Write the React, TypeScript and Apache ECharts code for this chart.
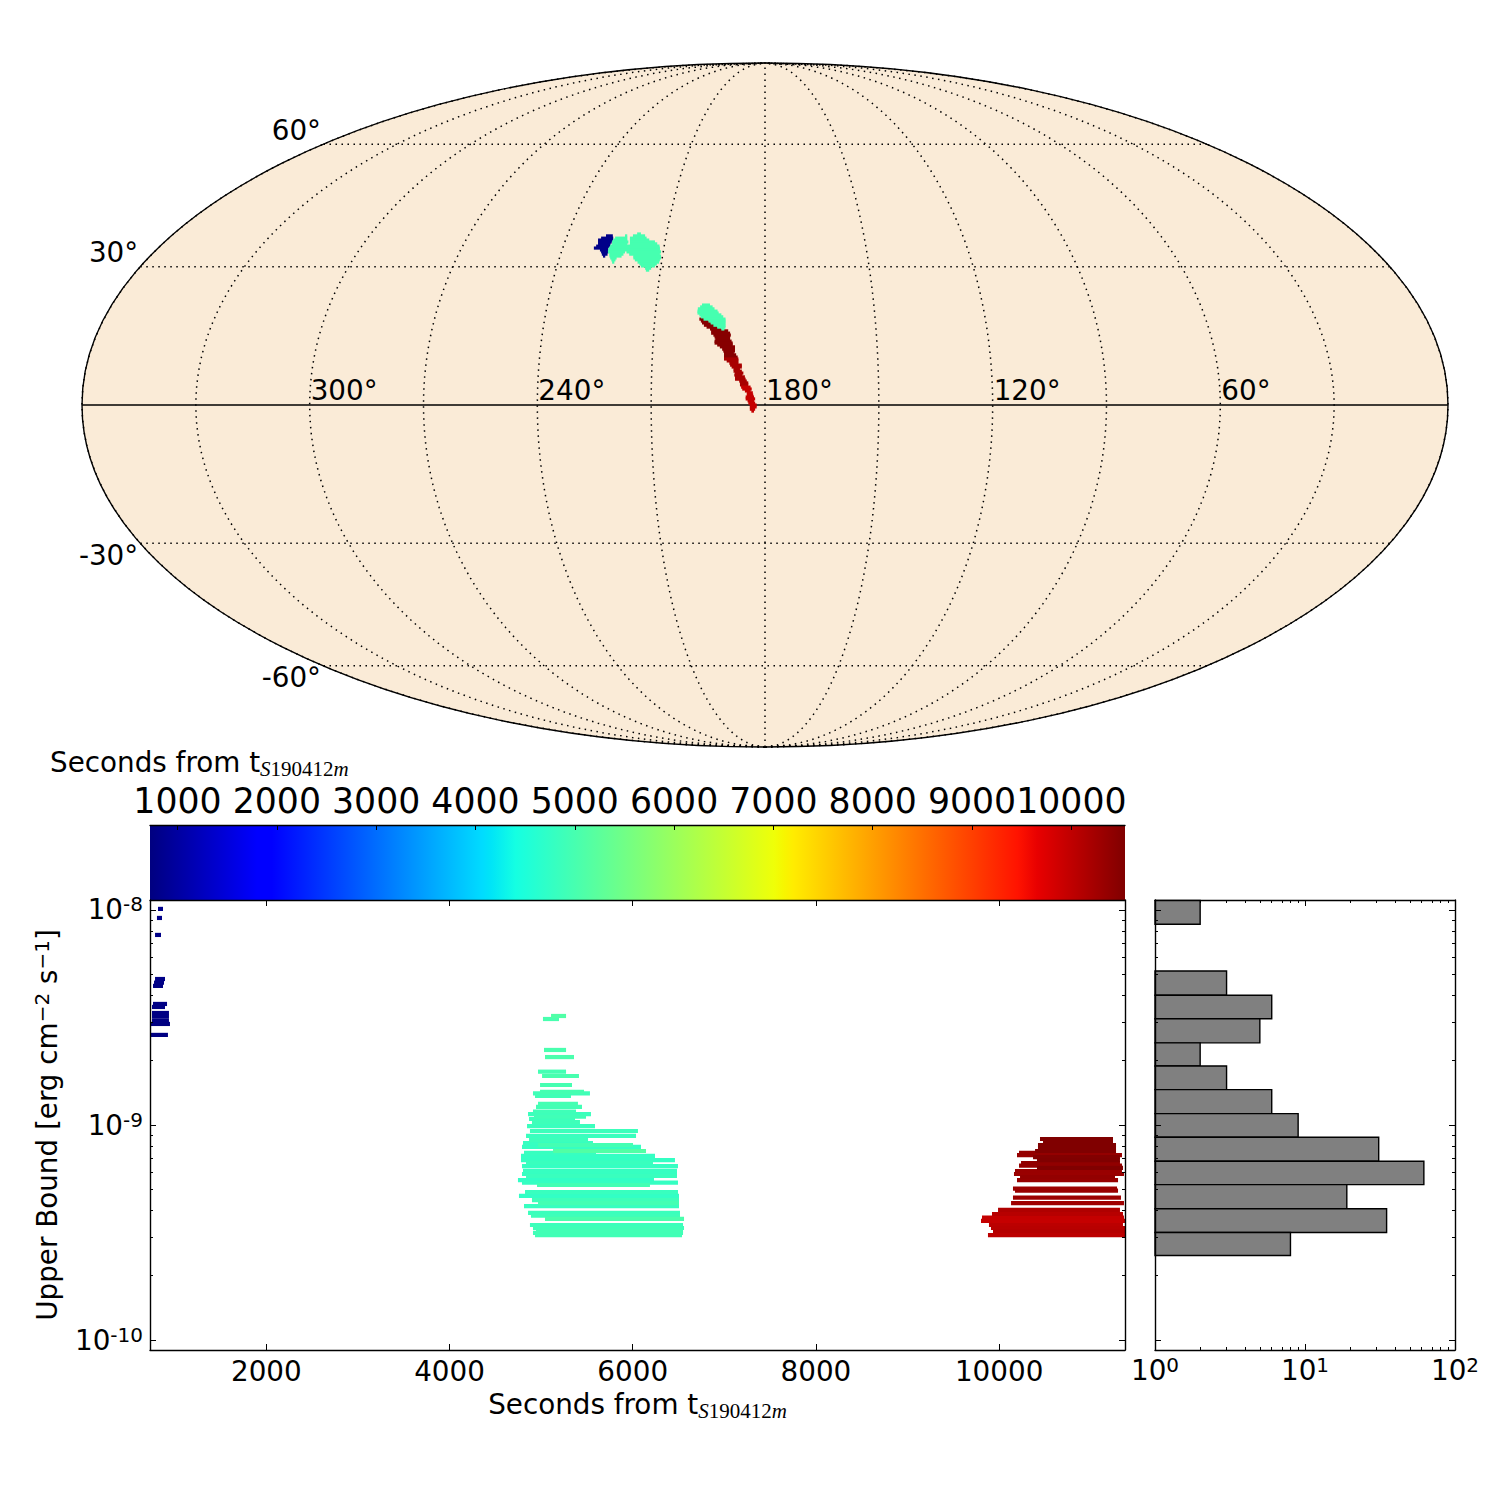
import React, { useEffect, useRef } from "react";
import * as echarts from "echarts";

const FONT = "DejaVu Sans";
const SERIF = "Liberation Serif";
const NAVY_T = 800;
const GREEN_T = 5000;

// Colour bar range, seconds
const cbMin = 723;
const cbMax = 10540;
const cbTicks = [1000, 2000, 3000, 4000, 5000, 6000, 7000, 8000, 9000, 10000];

// Main panel ranges
const tMin = 730;
const tMax = 11374;
const tTicks = [2000, 4000, 6000, 8000, 10000];
const fluxMin = 8.985e-11;
const fluxMax = 1.113e-8;
const fluxMajor = [1e-10, 1e-9, 1e-8];
const fluxMinor = [2e-10, 3e-10, 4e-10, 5e-10, 6e-10, 7e-10, 8e-10, 9e-10, 2e-9, 3e-9, 4e-9, 5e-9, 6e-9, 7e-9, 8e-9, 9e-9];
const countMajor = [1, 10, 100];
const countMinor = [2, 3, 4, 5, 6, 7, 8, 9, 20, 30, 40, 50, 60, 70, 80, 90];

// Upper limits: [log10 flux, first second, last second]
const earlyLimits = [
  [-7.995, 817, 872], [-8.037, 806, 861], [-8.116, 785, 850], [-8.321, 785, 894], [-8.338, 774, 883],
  [-8.353, 763, 872], [-8.437, 763, 916], [-8.451, 752, 894], [-8.479, 752, 937], [-8.496, 752, 937],
  [-8.515, 752, 937], [-8.53, 741, 948], [-8.581, 741, 926],
];
const middleLimits = [
  [-8.493, 5108, 5272], [-8.507, 5020, 5195], [-8.651, 5031, 5272], [-8.684, 5042, 5359], [-8.752, 4966, 5272],
  [-8.772, 5010, 5413], [-8.814, 4988, 5337], [-8.846, 4988, 5468], [-8.853, 4911, 5533], [-8.865, 4933, 5326],
  [-8.902, 4966, 5402], [-8.916, 4944, 5446], [-8.938, 4911, 5381], [-8.949, 4857, 5544], [-8.961, 4922, 5490],
  [-8.972, 4868, 5370], [-8.986, 4900, 5424], [-9.005, 4846, 5588], [-9.028, 4878, 6057], [-9.051, 4835, 6036],
  [-9.07, 4868, 5512], [-9.084, 4802, 5566], [-9.093, 4966, 6003], [-9.102, 4791, 6090], [-9.121, 5130, 6145],
  [-9.13, 4813, 5599], [-9.144, 4780, 6243], [-9.163, 4780, 6461], [-9.175, 4835, 6221], [-9.191, 4791, 6494],
  [-9.213, 4802, 6483], [-9.228, 4791, 6483], [-9.237, 4835, 6483], [-9.256, 4747, 6232], [-9.268, 4791, 6494],
  [-9.279, 4955, 6188], [-9.312, 4824, 6494], [-9.33, 4758, 6505], [-9.349, 4900, 6505], [-9.363, 4966, 6505],
  [-9.377, 4813, 6505], [-9.409, 4857, 6516], [-9.422, 4889, 6516], [-9.437, 5042, 6560], [-9.465, 4878, 6549],
  [-9.479, 4911, 6560], [-9.493, 4944, 6549], [-9.502, 4911, 6549], [-9.512, 4933, 6538],
];
const lateLimits = [
  [-9.065, 10446, 11243], [-9.079, 10479, 11243], [-9.093, 10424, 11276], [-9.106, 10424, 11276], [-9.121, 10392, 11276],
  [-9.13, 10217, 11276], [-9.14, 10195, 11341], [-9.149, 10370, 11319], [-9.163, 10413, 11319], [-9.177, 10239, 11319],
  [-9.189, 10217, 11341], [-9.199, 10413, 11352], [-9.214, 10173, 11341], [-9.228, 10162, 11363], [-9.242, 10228, 11265],
  [-9.256, 10195, 11298], [-9.296, 10151, 11287], [-9.305, 10173, 11298], [-9.338, 10151, 11330], [-9.363, 10130, 11363],
  [-9.395, 9988, 11319], [-9.414, 9922, 11352], [-9.431, 9813, 11363], [-9.446, 9802, 11385], [-9.465, 9889, 11352],
  [-9.479, 9911, 11385], [-9.493, 9933, 11385], [-9.512, 9878, 11385],
];

// Histogram: bin edges (flux) and counts per bin, top to bottom
const binUpper = [1.109e-8, 5.2e-9, 4.01e-9, 3.12e-9, 2.41e-9, 1.88e-9, 1.46e-9, 1.13e-9, 8.77e-10, 6.78e-10, 5.28e-10, 4.08e-10, 3.16e-10];
const binLower = [8.58e-9, 4.01e-9, 3.12e-9, 2.41e-9, 1.88e-9, 1.46e-9, 1.13e-9, 8.77e-10, 6.78e-10, 5.28e-10, 4.08e-10, 3.16e-10, 2.47e-10];
const binCounts = [2, 3, 6, 5, 2, 3, 6, 9, 31, 62, 19, 35, 8];

// Sky map rows: [map y, map x start, map x end], map units are degrees along the axes
const skyNavy = [
  [44.5, -41.9, -40.1], [43.9, -43.2, -40.0], [43.4, -44.0, -40.1], [42.9, -44.0, -40.4], [42.4, -44.0, -40.7], [41.8, -44.5, -40.8],
  [41.3, -45.1, -41.3], [40.8, -43.5, -41.3], [40.3, -43.2, -41.3], [39.7, -43.0, -41.5], [39.2, -42.7, -42.1],
];
const skyGreen = [
  [45.0, -33.7, -32.7], [44.5, -36.9, -36.3], [44.5, -34.8, -31.6], [43.9, -39.5, -36.3], [43.9, -35.6, -31.2],
  [43.4, -40.0, -36.3], [43.4, -35.6, -30.5], [42.9, -40.3, -36.0], [42.9, -35.6, -29.0], [42.4, -40.3, -36.3],
  [42.4, -35.6, -28.4], [41.8, -40.8, -27.8], [41.3, -41.1, -27.7], [40.8, -41.3, -27.7], [40.3, -41.4, -36.9],
  [40.3, -36.5, -27.4], [39.7, -41.0, -37.3], [39.7, -35.8, -27.7], [39.2, -41.0, -37.8], [39.2, -34.7, -27.4],
  [38.7, -40.8, -39.1], [38.7, -34.7, -27.4], [38.2, -40.5, -39.4], [38.2, -34.3, -27.7], [37.6, -40.3, -39.7],
  [37.6, -33.6, -27.9], [37.1, -33.1, -28.5], [36.6, -32.7, -29.0], [36.0, -31.6, -30.0], [35.5, -31.4, -30.5],
  [26.3, -16.6, -14.5], [25.8, -17.1, -13.8], [25.3, -17.7, -13.3], [24.7, -17.8, -12.5], [24.2, -17.8, -12.2],
  [23.7, -17.3, -11.5], [23.2, -16.9, -11.0], [22.6, -16.2, -10.4], [22.1, -14.9, -10.4], [21.6, -14.3, -10.4],
  [21.0, -13.6, -10.4], [20.5, -12.6, -10.4], [20.0, -11.5, -10.7],
];
const skyDarkRed = [
  [22.6, -17.3, -16.1], [22.1, -16.9, -14.9], [21.6, -16.6, -14.3], [21.0, -16.1, -13.3], [20.5, -15.4, -12.6],
  [20.0, -14.5, -11.5], [19.5, -14.2, -9.7], [18.9, -14.2, -9.2], [18.4, -13.6, -9.0], [17.9, -13.3, -9.2],
  [17.4, -13.1, -9.2], [16.8, -13.3, -8.8], [16.3, -13.3, -8.5], [15.8, -12.6, -8.5], [15.3, -11.9, -7.9],
  [14.7, -11.3, -7.9], [14.2, -11.0, -7.9], [13.7, -10.8, -8.2], [13.2, -10.8, -7.6], [12.6, -10.8, -7.2],
];
const skyMidRed = [
  [12.1, -10.8, -7.0], [11.6, -10.1, -7.0], [11.0, -9.4, -7.0], [10.5, -9.2, -6.1], [10.0, -8.8, -6.1],
  [9.5, -8.3, -6.6], [8.9, -8.3, -6.1], [8.4, -7.9, -5.7], [7.9, -8.1, -6.0], [7.4, -7.9, -5.3],
  [6.8, -7.9, -5.1], [6.3, -6.8, -4.8], [5.8, -6.6, -4.4], [5.3, -6.6, -4.4],
];
const skyBrightRed = [
  [4.7, -6.3, -3.8], [4.2, -6.0, -3.5], [3.7, -5.3, -3.8], [3.2, -4.8, -3.2], [2.6, -4.8, -3.1],
  [2.1, -5.1, -2.9], [1.6, -5.1, -2.6], [1.1, -4.6, -2.9], [0.5, -4.4, -2.6], [0.0, -4.0, -2.2],
  [-0.5, -4.0, -2.2], [-1.1, -4.0, -2.6], [-1.6, -3.6, -2.9],
];

const meridians = [0, 30, 60, 90, 120, 150, 180, 210, 240, 270, 300, 330, 360];
const parallels = [-60, -30, 30, 60];
const lonLabels = [300, 240, 180, 120, 60];
const latLabels = [60, 30, -30, -60];

const black = "#000";
const jetStops = [0, 0.11, 0.125, 0.34, 0.35, 0.375, 0.64, 0.65, 0.66, 0.89, 0.91, 1];

function ramp(v: number, pts: number[][]) {
  for (let i = 1; i < pts.length; i++) {
    if (v <= pts[i][0]) {
      const [a, av] = pts[i - 1];
      const [b, bv] = pts[i];
      return av + ((bv - av) * (v - a)) / (b - a);
    }
  }
  return pts[pts.length - 1][1];
}
function jet(v: number) {
  const c = Math.max(0, Math.min(1, v));
  const r = ramp(c, [[0, 0], [0.35, 0], [0.66, 1], [0.89, 1], [1, 0.5]]);
  const g = ramp(c, [[0, 0], [0.125, 0], [0.375, 1], [0.64, 1], [0.91, 0], [1, 0]]);
  const b = ramp(c, [[0, 0.5], [0.11, 1], [0.34, 1], [0.65, 0], [1, 0]]);
  return `rgb(${Math.round(r * 255)},${Math.round(g * 255)},${Math.round(b * 255)})`;
}
const timeColor = (t: number) => jet((t - cbMin) / (cbMax - cbMin));

// Mollweide projection into the map axes: x in +-180, y in +-90, longitude grows leftwards
function mollweide(lon: number, lat: number) {
  const phi = (lat * Math.PI) / 180;
  let th = phi;
  if (Math.abs(lat) >= 90) th = Math.sign(lat) * (Math.PI / 2);
  else {
    for (let i = 0; i < 40; i++) {
      const d = (2 * th + Math.sin(2 * th) - Math.PI * Math.sin(phi)) / (2 + 2 * Math.cos(2 * th));
      th -= d;
      if (Math.abs(d) < 1e-8) break;
    }
  }
  return [(180 - lon) * Math.cos(th), 90 * Math.sin(th)];
}

const subscriptRich = {
  a: { fontFamily: FONT, fontSize: 27.8, fontWeight: "normal", color: black },
  i: { fontFamily: SERIF, fontStyle: "italic", fontWeight: "normal", fontSize: 21, color: black, verticalAlign: "top", padding: [13, 0, 0, 0] },
  n: { fontFamily: SERIF, fontWeight: "normal", fontSize: 21, color: black, verticalAlign: "top", padding: [13, 0, 0, 0] },
};
const secondsLabel = "{a|Seconds from t}{i|S}{n|190412}{i|m}";

const powerRich = {
  b: { fontFamily: FONT, fontSize: 27.8, color: black },
  s: { fontFamily: FONT, fontSize: 20, color: black, verticalAlign: "bottom", padding: [0, 0, 11, 0] },
};
const powerLabel = (v: number) => `{b|10}{s|${Math.round(Math.log10(v))}}`;
const plainLabel = (v: number) => String(v);

function tickAxis(opts: any) {
  const { gridIndex, position, range, values, length, line, labels, logScale } = opts;
  const axis: any = {
    gridIndex,
    position,
    type: logScale ? "log" : "value",
    min: range[0],
    max: range[1],
    z: 10,
    splitLine: { show: false },
    axisLine: { show: !!line, onZero: false, lineStyle: { color: black, width: 1.4 } },
    axisTick: { show: true, inside: true, length, customValues: values, lineStyle: { color: black, width: 1 } },
    axisLabel: { show: false },
  };
  if (logScale) axis.logBase = 10;
  if (labels) axis.axisLabel = { show: true, customValues: values, hideOverlap: false, ...labels };
  return axis;
}

function rowSeries(name: string, rows: number[][], colorShift = 0) {
  const data = rows
    .map(([e, a, b]) => [a, b, Math.pow(10, e)])
    .sort((p, q) => p[0] - q[0]);
  return {
    name,
    type: "custom",
    xAxisIndex: 2,
    yAxisIndex: 2,
    silent: true,
    z: 3,
    encode: { x: [0, 1], y: 2 },
    data,
    renderItem(params: any, api: any) {
      const t1 = api.value(0);
      const t2 = api.value(1);
      const f = api.value(2);
      const p1 = api.coord([t1, f]);
      const p2 = api.coord([t2, f]);
      const rect = echarts.graphic.clipRectByRect(
        { x: p1[0], y: p1[1] - 2.1, width: p2[0] - p1[0], height: 4.2 },
        params.coordSys
      );
      if (!rect) return null;
      return { type: "rect", shape: rect, style: { fill: timeColor(t1 + colorShift) } };
    },
  };
}

function skySeries(name: string, rows: number[][], t: number) {
  return {
    name,
    type: "custom",
    xAxisIndex: 0,
    yAxisIndex: 0,
    silent: true,
    z: 3,
    encode: { x: [1, 2], y: 0 },
    data: rows,
    renderItem(_: any, api: any) {
      const p1 = api.coord([api.value(1), api.value(0)]);
      const p2 = api.coord([api.value(2), api.value(0)]);
      return {
        type: "rect",
        shape: { x: p1[0], y: p1[1] - 1.6, width: p2[0] - p1[0], height: 3.2 },
        style: { fill: timeColor(t) },
      };
    },
  };
}

function buildOption() {
  const mapAxis = (lo: number, hi: number) => ({ gridIndex: 0, type: "value", min: lo, max: hi, show: false });
  const hiddenY = { gridIndex: 1, type: "value", min: 0, max: 1, show: false };
  const dots = [1.5, 4.5];

  const xAxis = [
    mapAxis(-180, 180),
    tickAxis({
      gridIndex: 1, position: "top", range: [cbMin, cbMax], values: cbTicks, length: 5, line: true,
      labels: { fontFamily: FONT, fontSize: 34.7, color: black, margin: 7, formatter: plainLabel },
    }),
    {
      ...tickAxis({
        gridIndex: 2, position: "bottom", range: [tMin, tMax], values: tTicks, length: 6, line: true,
        labels: { fontFamily: FONT, fontSize: 27.8, color: black, margin: 7, formatter: plainLabel },
      }),
      name: secondsLabel,
      nameLocation: "middle",
      nameGap: 37,
      nameTextStyle: { rich: subscriptRich },
    },
    tickAxis({ gridIndex: 2, position: "top", range: [tMin, tMax], values: tTicks, length: 6, line: true }),
    tickAxis({
      gridIndex: 3, position: "bottom", range: [1, 100], values: countMajor, length: 6, line: true, logScale: true,
      labels: { formatter: powerLabel, rich: powerRich, margin: 5 },
    }),
    tickAxis({ gridIndex: 3, position: "bottom", range: [1, 100], values: countMinor, length: 3, logScale: true }),
    tickAxis({ gridIndex: 3, position: "top", range: [1, 100], values: countMajor, length: 6, line: true, logScale: true }),
    tickAxis({ gridIndex: 3, position: "top", range: [1, 100], values: countMinor, length: 3, logScale: true }),
  ];

  const fluxRange = [fluxMin, fluxMax];
  const yAxis = [
    mapAxis(-90, 90),
    hiddenY,
    {
      ...tickAxis({
        gridIndex: 2, position: "left", range: fluxRange, values: fluxMajor, length: 6, line: true, logScale: true,
        labels: { formatter: powerLabel, rich: powerRich, margin: 7 },
      }),
      name: "{a|Upper Bound [erg cm}{u|−2}{a| s}{u|−1}{a|]}",
      nameLocation: "middle",
      nameGap: 87,
      nameRotate: 90,
      nameTextStyle: {
        rich: {
          a: { fontFamily: FONT, fontSize: 27.8, color: black },
          u: { fontFamily: FONT, fontSize: 20, color: black, verticalAlign: "bottom", padding: [0, 0, 11, 0] },
        },
      },
    },
    tickAxis({ gridIndex: 2, position: "left", range: fluxRange, values: fluxMinor, length: 3, logScale: true }),
    tickAxis({ gridIndex: 2, position: "right", range: fluxRange, values: fluxMajor, length: 6, line: true, logScale: true }),
    tickAxis({ gridIndex: 2, position: "right", range: fluxRange, values: fluxMinor, length: 3, logScale: true }),
    tickAxis({ gridIndex: 3, position: "left", range: fluxRange, values: fluxMajor, length: 6, line: true, logScale: true }),
    tickAxis({ gridIndex: 3, position: "left", range: fluxRange, values: fluxMinor, length: 3, logScale: true }),
    tickAxis({ gridIndex: 3, position: "right", range: fluxRange, values: fluxMajor, length: 6, line: true, logScale: true }),
    tickAxis({ gridIndex: 3, position: "right", range: fluxRange, values: fluxMinor, length: 3, logScale: true }),
  ];

  const onMap = { type: "custom", xAxisIndex: 0, yAxisIndex: 0, silent: true };

  const series: any[] = [
    {
      ...onMap,
      name: "sky",
      z: 1,
      data: [[0, 0]],
      renderItem(_: any, api: any) {
        const c = api.coord([0, 0]);
        const e = api.coord([180, 90]);
        return {
          type: "ellipse",
          shape: { cx: c[0], cy: c[1], rx: e[0] - c[0], ry: c[1] - e[1] },
          style: { fill: "#faebd7", stroke: black, lineWidth: 1.4 },
        };
      },
    },
    {
      ...onMap,
      name: "meridians",
      z: 2,
      data: meridians.map((m) => [m]),
      renderItem(_: any, api: any) {
        const lon = api.value(0);
        const points: number[][] = [];
        for (let lat = -90; lat <= 90; lat += 2) points.push(api.coord(mollweide(lon, lat)));
        return { type: "polyline", shape: { points }, style: { stroke: black, fill: "none", lineWidth: 1.5, lineDash: dots } };
      },
    },
    {
      ...onMap,
      name: "parallels",
      z: 2,
      data: parallels.map((m) => [m]),
      renderItem(_: any, api: any) {
        const lat = api.value(0);
        const a = api.coord(mollweide(0, lat));
        const b = api.coord(mollweide(360, lat));
        return { type: "line", shape: { x1: a[0], y1: a[1], x2: b[0], y2: b[1] }, style: { stroke: black, lineWidth: 1.5, lineDash: dots } };
      },
    },
    {
      ...onMap,
      name: "equator",
      z: 2,
      data: [[0]],
      renderItem(_: any, api: any) {
        const a = api.coord(mollweide(0, 0));
        const b = api.coord(mollweide(360, 0));
        return { type: "line", shape: { x1: a[0], y1: a[1], x2: b[0], y2: b[1] }, style: { stroke: black, lineWidth: 1.4 } };
      },
    },
    skySeries("sky late dark", skyDarkRed, 10480),
    skySeries("sky late mid", skyMidRed, 10200),
    skySeries("sky late bright", skyBrightRed, 9950),
    skySeries("sky early", skyNavy, NAVY_T),
    skySeries("sky middle", skyGreen, GREEN_T),
    {
      ...onMap,
      name: "longitude labels",
      z: 4,
      data: lonLabels.map((m) => [m]),
      renderItem(_: any, api: any) {
        const lon = api.value(0);
        const p = api.coord(mollweide(lon, 0));
        return {
          type: "text",
          x: p[0] + 1,
          y: p[1] - 15,
          style: { text: `${lon}°`, fontFamily: FONT, fontSize: 27.8, fill: black, align: "left", verticalAlign: "middle" },
        };
      },
    },
    {
      ...onMap,
      name: "latitude labels",
      z: 4,
      data: latLabels.map((m) => [m]),
      renderItem(_: any, api: any) {
        const lat = api.value(0);
        const p = api.coord(mollweide(360, lat));
        return {
          type: "text",
          x: p[0] - 2,
          y: p[1] + (lat > 0 ? -14 : 12),
          style: { text: `${lat}°`, fontFamily: FONT, fontSize: 27.8, fill: black, align: "right", verticalAlign: "middle" },
        };
      },
    },
    {
      type: "custom",
      name: "colour bar",
      xAxisIndex: 1,
      yAxisIndex: 1,
      silent: true,
      z: 1,
      data: [[cbMin, cbMax]],
      renderItem(_: any, api: any) {
        const a = api.coord([api.value(0), 0]);
        const b = api.coord([api.value(1), 1]);
        return {
          type: "rect",
          shape: { x: a[0], y: b[1], width: b[0] - a[0], height: a[1] - b[1] },
          style: {
            fill: new echarts.graphic.LinearGradient(0, 0, 1, 0, jetStops.map((s) => ({ offset: s, color: jet(s) }))),
          },
        };
      },
    },
    rowSeries("early limits", earlyLimits),
    rowSeries("middle limits", middleLimits),
    rowSeries("late limits", lateLimits, 150),
    {
      type: "custom",
      name: "histogram",
      xAxisIndex: 4,
      yAxisIndex: 6,
      silent: true,
      z: 3,
      data: binCounts.map((c, i) => [c, binLower[i], binUpper[i]]),
      renderItem(_: any, api: any) {
        const a = api.coord([1, api.value(1)]);
        const b = api.coord([api.value(0), api.value(2)]);
        return {
          type: "rect",
          shape: { x: a[0], y: b[1], width: b[0] - a[0], height: a[1] - b[1] },
          style: { fill: "#808080", stroke: black, lineWidth: 1.4 },
        };
      },
    },
  ];

  return {
    animation: false,
    backgroundColor: "#fff",
    title: {
      text: secondsLabel,
      left: 50,
      top: 745,
      padding: 0,
      textStyle: { fontWeight: "normal", rich: subscriptRich },
    },
    grid: [
      { left: 82, top: 63, width: 1366, height: 684 },
      { left: 150, top: 825, width: 975, height: 75 },
      { left: 150, top: 900, width: 975, height: 450 },
      { left: 1155, top: 900, width: 300, height: 450 },
    ],
    xAxis,
    yAxis,
    series,
  };
}

export default function App() {
  const ref = useRef<HTMLDivElement>(null);
  useEffect(() => {
    const chart = echarts.init(ref.current!, undefined, { renderer: "svg" });
    chart.setOption(buildOption() as any);
    return () => chart.dispose();
  }, []);
  return <div ref={ref} style={{ position: "absolute", left: 0, top: 0, width: 1500, height: 1500 }} />;
}
